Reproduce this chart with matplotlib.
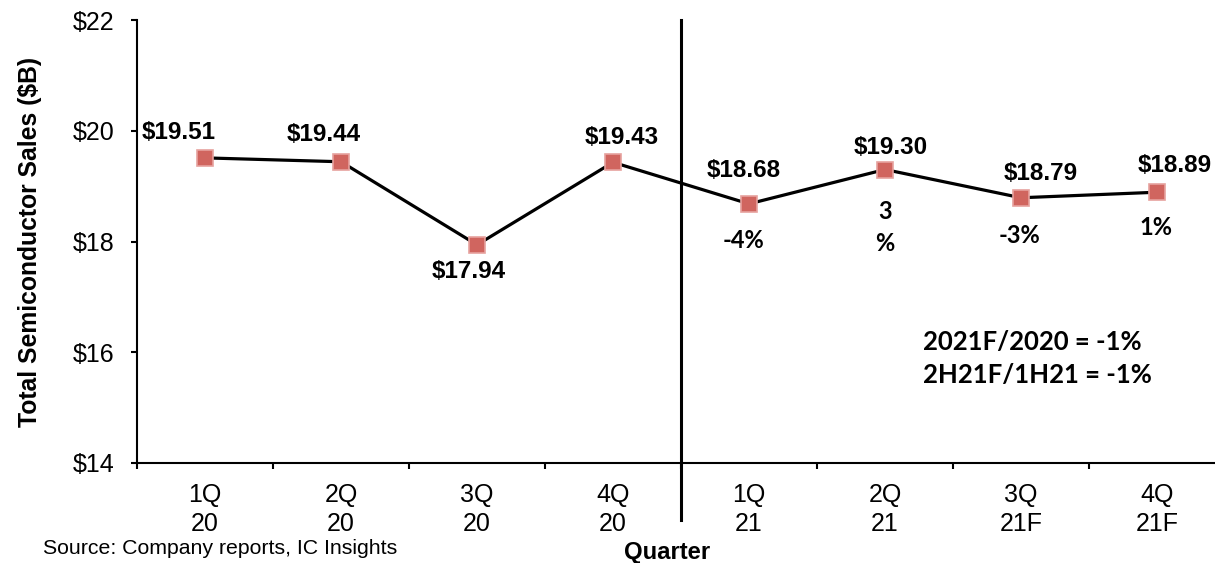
import matplotlib
matplotlib.use("Agg")
import matplotlib.pyplot as plt
import numpy as np

quarters = ["1Q\n20", "2Q\n20", "3Q\n20", "4Q\n20", "1Q\n21", "2Q\n21", "3Q\n21F", "4Q\n21F"]
sales = [19.51, 19.44, 17.94, 19.43, 18.68, 19.30, 18.79, 18.89]
value_labels = ["$19.51", "$19.44", "$17.94", "$19.43", "$18.68", "$19.30", "$18.79", "$18.89"]
growth_labels = [None, None, None, None, "-4%", "3\n%", "-3%", "1%"]
yticks = [14, 16, 18, 20, 22]
ytick_labels = ["$14", "$16", "$18", "$20", "$22"]
summary_lines = ["2021F/2020 = -1%", "2H21F/1H21 = -1%"]

# layout offsets (pixels) for labels
val_off = [(-26, 25), (-17, 27), (-8, -27), (9, 25), (-5, 33), (6, 22), (20, 24), (18, 27)]
grow_off = [None, None, None, None, (-5, -37), (0, -58), (-2, -38), (-1, -35)]

W, H = 1215, 563
fig = plt.figure(figsize=(W / 100, H / 100), dpi=100)
ax = fig.add_axes([137 / W, (H - 463) / H, 1088 / W, 443 / H])

x = np.arange(len(sales))
ax.plot(x, sales, color="black", lw=2.3, zorder=2)
ax.plot(x, sales, ls="none", marker="s", ms=11, mfc="#d0655f", mec="#e6a29e", mew=1.2, zorder=3)

ax.set_xlim(-0.5, len(sales) - 0.5)
ax.set_ylim(14, 22)
for s in ["top", "right"]:
    ax.spines[s].set_visible(False)
for s in ["left", "bottom"]:
    ax.spines[s].set_linewidth(1.5)
    ax.spines[s].set_color("black")

ax.set_yticks(yticks)
ax.set_yticklabels(ytick_labels, fontfamily="Liberation Sans", fontsize=18)
ax.tick_params(axis="y", direction="out", length=4.5, width=1.5, pad=11.5)

ax.set_xticks(x)
ax.set_xticklabels(quarters, fontfamily="Liberation Sans", fontsize=18, linespacing=1.28)
ax.tick_params(axis="x", which="major", length=0, pad=14.5)
ax.set_xticks(np.arange(-0.5, len(sales) - 0.5, 1.0), minor=True)
ax.tick_params(axis="x", which="minor", direction="out", length=4.5, width=1.5)

# divider
ax.plot([3.5, 3.5], [14 - 1.03, 22], color="black", lw=2.2, clip_on=False, zorder=4)

for i, (v, lab) in enumerate(zip(sales, value_labels)):
    dx, dy = val_off[i]
    ax.annotate(lab, (i, v), xytext=(dx, dy), textcoords="offset pixels",
                ha="center", va="center", fontsize=17.5, fontweight="bold",
                fontfamily="Liberation Sans")
    if growth_labels[i]:
        dx, dy = grow_off[i]
        ax.annotate(growth_labels[i], (i, v), xytext=(dx, dy), textcoords="offset pixels",
                    ha="center", va="center", fontsize=17, fontweight="bold",
                    fontfamily="Lato", linespacing=1.45)

fig.text(923 / W, 1 - 342 / H, summary_lines[0], ha="left", va="center",
         fontsize=18.5, fontweight="bold", fontfamily="Lato")
fig.text(923 / W, 1 - 375 / H, summary_lines[1], ha="left", va="center",
         fontsize=18.5, fontweight="bold", fontfamily="Lato")

ax.set_ylabel("Total Semiconductor Sales ($B)", fontsize=17.8, fontweight="bold",
              fontfamily="Liberation Sans")
ax.yaxis.set_label_coords(-0.098, 0.5)
ax.yaxis.label.set_va("center")
fig.text(667 / W, 1 - 553 / H, "Quarter", ha="center", va="center",
         fontsize=17.2, fontweight="bold", fontfamily="Liberation Sans")
fig.text(43 / W, 1 - 548 / H, "Source: Company reports, IC Insights", ha="left", va="center",
         fontsize=15.3, fontfamily="Liberation Sans")

fig.savefig("out.png", dpi=100)
